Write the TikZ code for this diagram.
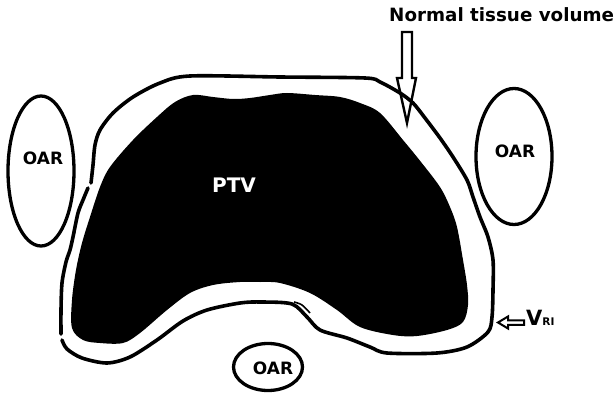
\documentclass[tikz,border=0pt]{standalone}
\usepackage{fontspec}
\setmainfont{DejaVu Sans}
\begin{document}
\begin{tikzpicture}[x=1pt,y=-1pt,
  contour/.style={line width=3.6pt, line join=round, line cap=round},
  organ/.style={line width=3.3pt},
  lbl/.style={font=\bfseries\fontsize{17}{17}\selectfont, inner sep=0pt},
  hollowarrow/.style={line width=2.4pt, line join=miter}]
\useasboundingbox (0,0) rectangle (616,393);
\fill[white] (0,0) rectangle (616,393);

% PTV (filled black)
\fill[black] plot[smooth cycle, tension=0.55] coordinates {
  (175,102) (193,95) (213,97) (233,99) (250,98) (270,95) (287,93) (315,95)
  (340,97) (360,103) (380,113) (403,140) (421,162) (440,187) (450,207)
  (457,227) (463,260) (467,285) (468,305) (463,322) (447,330) (417,336)
  (393,335) (360,327) (337,310) (310,293) (280,283) (260,282) (240,282)
  (213,285) (190,293) (167,310) (140,333) (123,343) (100,343) (83,340)
  (72,328) (72,300) (76,270) (82,243) (90,217) (100,187) (110,167)
  (133,140) (157,117)};

% outer contour (normal tissue margin)
\draw[contour] plot[smooth, tension=0.5] coordinates {
  (91,183) (93,165) (95,145) (100,130) (113,113) (133,97) (160,83) (190,76)
  (280,77) (365,78) (380,82) (400,93) (413,103) (425,118) (440,138)
  (453,157) (467,180) (473,197) (480,217) (488,237) (493,260) (493,290)
  (492,317) (488,332) (467,347) (437,353) (387,353) (370,347) (347,338)
  (320,330) (307,317) (292,304) (262,302) (240,303) (207,310) (183,321)
  (157,340) (130,357) (107,363) (82,358) (67,349) (62,340)};
\draw[contour] plot[smooth, tension=0.5] coordinates {
  (61,334) (61,310) (62,283) (66,262) (70,250) (73,237) (78,213) (83,200) (88,188)};
\draw[line width=1.6pt] plot[smooth, tension=0.6] coordinates {(294,302) (302,305) (310,313)};

% organs at risk
\draw[organ] (41,171) ellipse [x radius=33pt, y radius=75pt];
\draw[organ] (514,156.5) ellipse [x radius=38pt, y radius=68pt];
\draw[organ] (268,367) ellipse [x radius=34.5pt, y radius=23.5pt];

\node[lbl] (oarL) at (43,158) {OAR};
\node[lbl] (oarR) at (515,151) {OAR};
\node[lbl] (oarB) at (273,368) {OAR};
\node[lbl, text=white, font=\bfseries\fontsize{20}{20}\selectfont] (ptv) at (234,185.5) {PTV};

% title and hollow arrow
\node[inner sep=0pt, anchor=base west, font=\bfseries\fontsize{18.3}{18.3}\selectfont] (ntv) at (389,22) {Normal tissue volume};
\draw[hollowarrow] (402,32) -- (412,32) -- (412,78) -- (416,78) -- (407,123) -- (397,78) -- (402,78) -- cycle;

% V_RI label and arrow
\node[inner sep=0pt, anchor=base west, font=\bfseries\fontsize{21}{21}\selectfont] (vri) at (526,325) {V{\fontsize{10.5}{10.5}\selectfont RI}};
\draw[line width=2pt, line join=miter] (498,322.5) -- (508,316.5) -- (508,320.3) -- (524,320.3) -- (524,324.8) -- (508,324.8) -- (508,328.5) -- cycle;
\end{tikzpicture}
\end{document}
